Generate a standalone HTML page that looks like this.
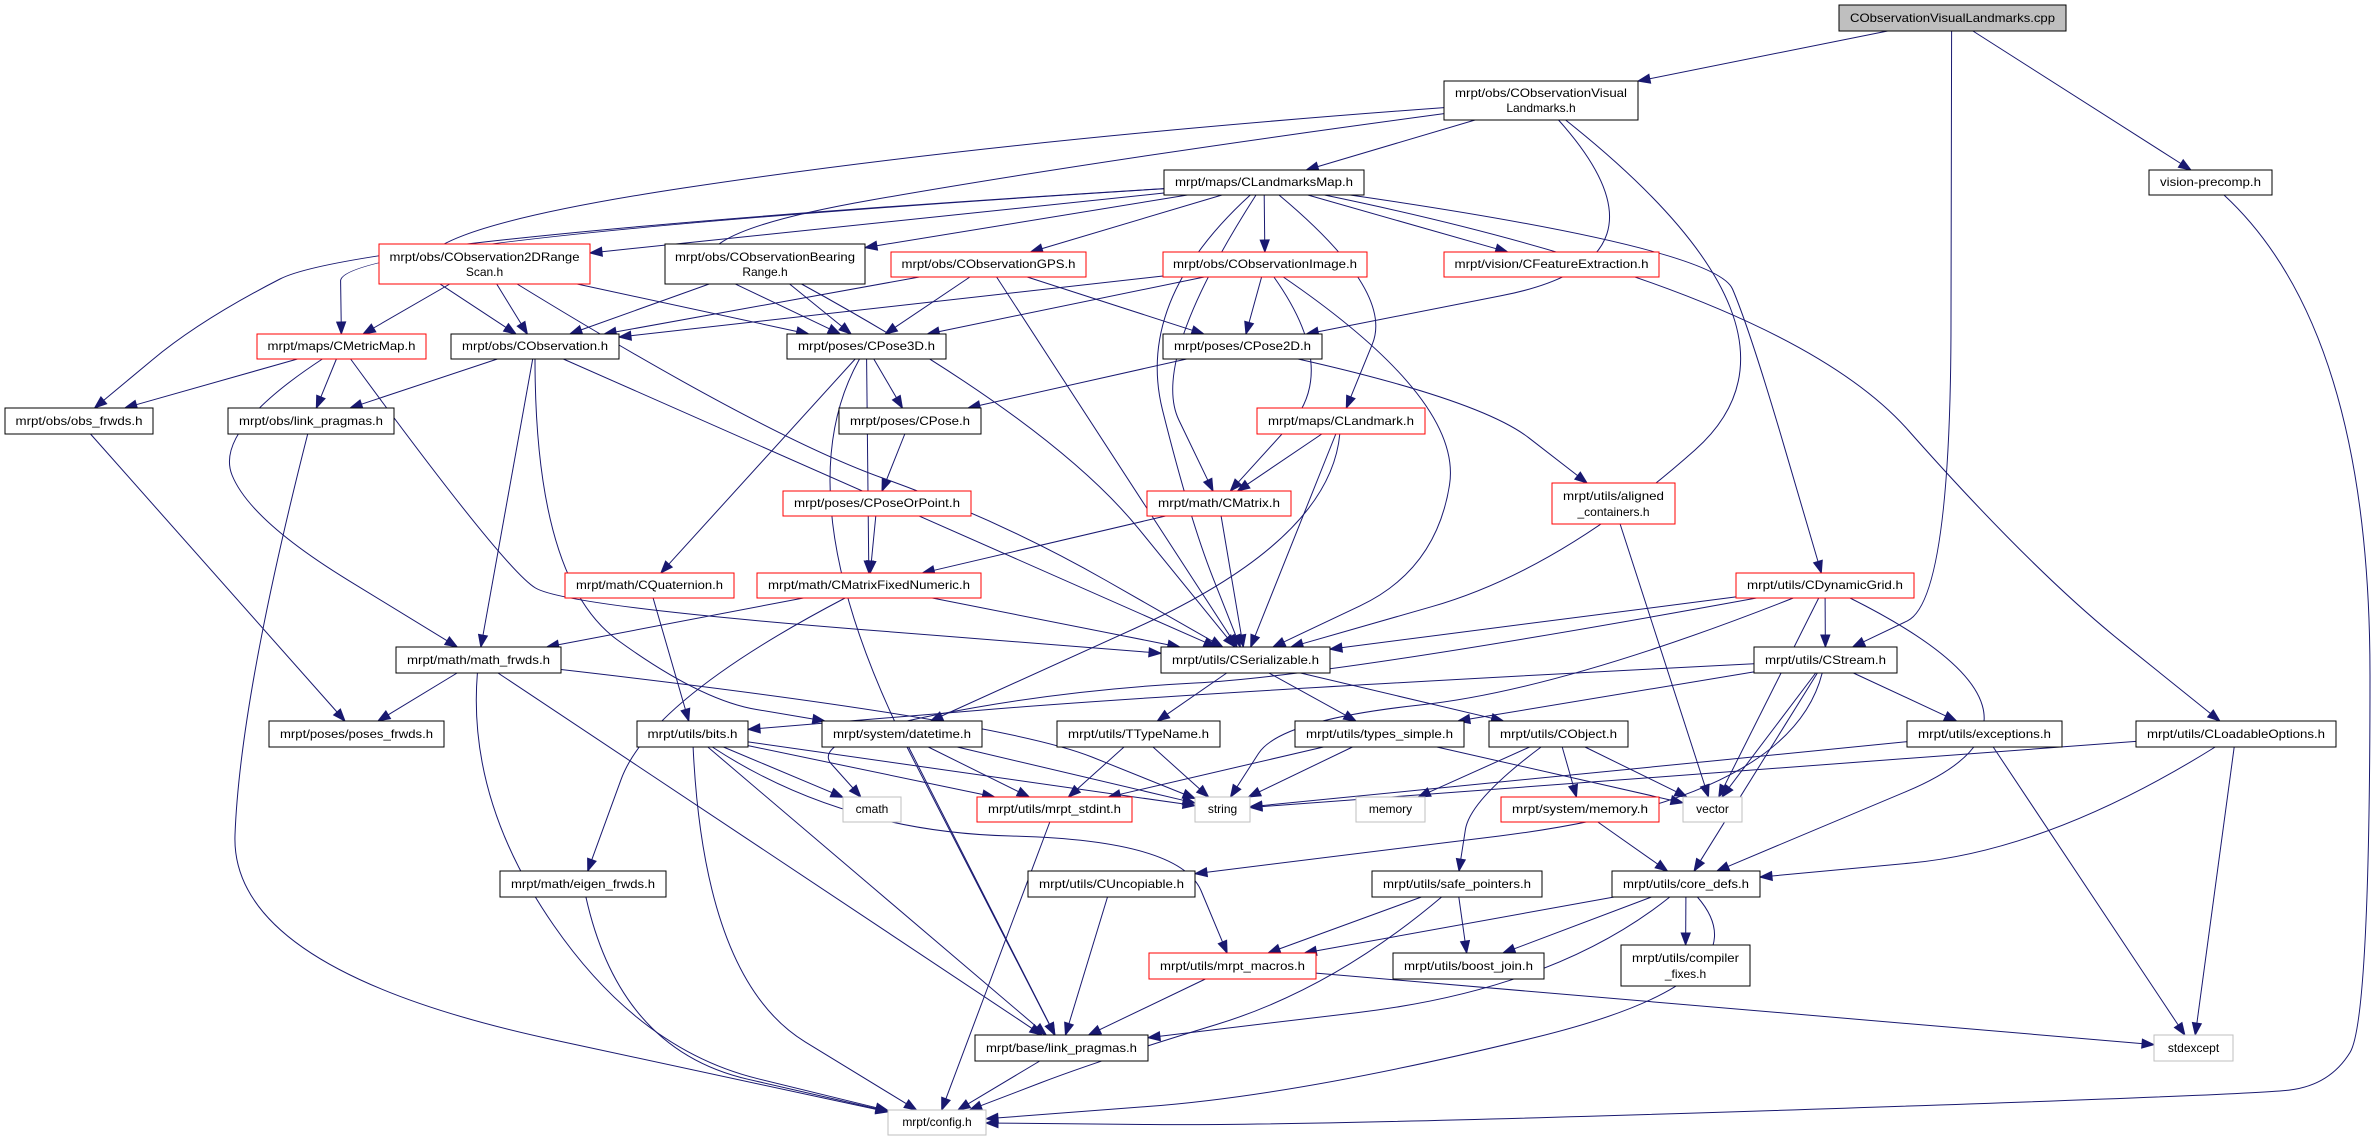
<!DOCTYPE html>
<html><head><meta charset="utf-8">
<style>
html,body{margin:0;padding:0;background:#fff;}
svg{display:block;}
text{font-family:"Liberation Sans",Arial,sans-serif;font-size:12px;fill:#000;}
</style></head>
<body>
<svg id="g" width="2373" height="1141" viewBox="0 0 2373 1141" xmlns="http://www.w3.org/2000/svg">
<g id="edges" fill="none" stroke="#191970" stroke-width="1"></g>
<g id="heads" fill="#191970" stroke="#191970"></g>
<g id="nodes" stroke-width="1">
<rect x="1839" y="5" width="227" height="26" fill="#bfbfbf" stroke="#000"/><text x="1952.5" y="22" text-anchor="middle" textLength="205" lengthAdjust="spacingAndGlyphs">CObservationVisualLandmarks.cpp</text>
<rect x="1444" y="81" width="194" height="39" fill="#fff" stroke="#000"/><text x="1541" y="97" text-anchor="middle" textLength="172" lengthAdjust="spacingAndGlyphs">mrpt/obs/CObservationVisual</text><text x="1541" y="112" text-anchor="middle">Landmarks.h</text>
<rect x="2149" y="170" width="123" height="25" fill="#fff" stroke="#000"/><text x="2210.5" y="186" text-anchor="middle" textLength="101" lengthAdjust="spacingAndGlyphs">vision-precomp.h</text>
<rect x="1164" y="170" width="200" height="25" fill="#fff" stroke="#000"/><text x="1264" y="186" text-anchor="middle" textLength="178" lengthAdjust="spacingAndGlyphs">mrpt/maps/CLandmarksMap.h</text>
<rect x="379" y="244" width="211" height="40" fill="#fff" stroke="#f00"/><text x="484.5" y="261" text-anchor="middle" textLength="190" lengthAdjust="spacingAndGlyphs">mrpt/obs/CObservation2DRange</text><text x="484.5" y="276" text-anchor="middle">Scan.h</text>
<rect x="665" y="244" width="200" height="40" fill="#fff" stroke="#000"/><text x="765" y="261" text-anchor="middle" textLength="180" lengthAdjust="spacingAndGlyphs">mrpt/obs/CObservationBearing</text><text x="765" y="276" text-anchor="middle">Range.h</text>
<rect x="891" y="252" width="195" height="25" fill="#fff" stroke="#f00"/><text x="988.5" y="268" text-anchor="middle" textLength="174" lengthAdjust="spacingAndGlyphs">mrpt/obs/CObservationGPS.h</text>
<rect x="1163" y="252" width="204" height="25" fill="#fff" stroke="#f00"/><text x="1265" y="268" text-anchor="middle" textLength="184" lengthAdjust="spacingAndGlyphs">mrpt/obs/CObservationImage.h</text>
<rect x="1444" y="252" width="215" height="25" fill="#fff" stroke="#f00"/><text x="1551.5" y="268" text-anchor="middle" textLength="194" lengthAdjust="spacingAndGlyphs">mrpt/vision/CFeatureExtraction.h</text>
<rect x="257" y="334" width="169" height="25" fill="#fff" stroke="#f00"/><text x="341.5" y="350" text-anchor="middle" textLength="148" lengthAdjust="spacingAndGlyphs">mrpt/maps/CMetricMap.h</text>
<rect x="451" y="334" width="168" height="25" fill="#fff" stroke="#000"/><text x="535" y="350" text-anchor="middle" textLength="146" lengthAdjust="spacingAndGlyphs">mrpt/obs/CObservation.h</text>
<rect x="787" y="334" width="159" height="25" fill="#fff" stroke="#000"/><text x="866.5" y="350" text-anchor="middle" textLength="137" lengthAdjust="spacingAndGlyphs">mrpt/poses/CPose3D.h</text>
<rect x="1163" y="334" width="159" height="25" fill="#fff" stroke="#000"/><text x="1242.5" y="350" text-anchor="middle" textLength="137" lengthAdjust="spacingAndGlyphs">mrpt/poses/CPose2D.h</text>
<rect x="5" y="408" width="148" height="26" fill="#fff" stroke="#000"/><text x="79" y="425" text-anchor="middle" textLength="127" lengthAdjust="spacingAndGlyphs">mrpt/obs/obs_frwds.h</text>
<rect x="228" y="408" width="166" height="26" fill="#fff" stroke="#000"/><text x="311" y="425" text-anchor="middle" textLength="144" lengthAdjust="spacingAndGlyphs">mrpt/obs/link_pragmas.h</text>
<rect x="839" y="408" width="142" height="26" fill="#fff" stroke="#000"/><text x="910" y="425" text-anchor="middle" textLength="120" lengthAdjust="spacingAndGlyphs">mrpt/poses/CPose.h</text>
<rect x="1257" y="408" width="168" height="26" fill="#fff" stroke="#f00"/><text x="1341" y="425" text-anchor="middle" textLength="146" lengthAdjust="spacingAndGlyphs">mrpt/maps/CLandmark.h</text>
<rect x="783" y="491" width="188" height="25" fill="#fff" stroke="#f00"/><text x="877" y="507" text-anchor="middle" textLength="166" lengthAdjust="spacingAndGlyphs">mrpt/poses/CPoseOrPoint.h</text>
<rect x="1147" y="491" width="144" height="25" fill="#fff" stroke="#f00"/><text x="1219" y="507" text-anchor="middle" textLength="122" lengthAdjust="spacingAndGlyphs">mrpt/math/CMatrix.h</text>
<rect x="1552" y="483" width="123" height="41" fill="#fff" stroke="#f00"/><text x="1613.5" y="500" text-anchor="middle" textLength="101" lengthAdjust="spacingAndGlyphs">mrpt/utils/aligned</text><text x="1613.5" y="516" text-anchor="middle">_containers.h</text>
<rect x="565" y="573" width="169" height="25" fill="#fff" stroke="#f00"/><text x="649.5" y="589" text-anchor="middle" textLength="147" lengthAdjust="spacingAndGlyphs">mrpt/math/CQuaternion.h</text>
<rect x="757" y="573" width="224" height="25" fill="#fff" stroke="#f00"/><text x="869" y="589" text-anchor="middle" textLength="202" lengthAdjust="spacingAndGlyphs">mrpt/math/CMatrixFixedNumeric.h</text>
<rect x="1736" y="573" width="178" height="25" fill="#fff" stroke="#f00"/><text x="1825" y="589" text-anchor="middle" textLength="156" lengthAdjust="spacingAndGlyphs">mrpt/utils/CDynamicGrid.h</text>
<rect x="396" y="647" width="165" height="26" fill="#fff" stroke="#000"/><text x="478.5" y="664" text-anchor="middle" textLength="143" lengthAdjust="spacingAndGlyphs">mrpt/math/math_frwds.h</text>
<rect x="1161" y="647" width="169" height="26" fill="#fff" stroke="#000"/><text x="1245.5" y="664" text-anchor="middle" textLength="147" lengthAdjust="spacingAndGlyphs">mrpt/utils/CSerializable.h</text>
<rect x="1754" y="647" width="143" height="26" fill="#fff" stroke="#000"/><text x="1825.5" y="664" text-anchor="middle" textLength="121" lengthAdjust="spacingAndGlyphs">mrpt/utils/CStream.h</text>
<rect x="269" y="721" width="175" height="26" fill="#fff" stroke="#000"/><text x="356.5" y="738" text-anchor="middle" textLength="153" lengthAdjust="spacingAndGlyphs">mrpt/poses/poses_frwds.h</text>
<rect x="637" y="721" width="111" height="26" fill="#fff" stroke="#000"/><text x="692.5" y="738" text-anchor="middle" textLength="90" lengthAdjust="spacingAndGlyphs">mrpt/utils/bits.h</text>
<rect x="822" y="721" width="160" height="26" fill="#fff" stroke="#000"/><text x="902" y="738" text-anchor="middle" textLength="138" lengthAdjust="spacingAndGlyphs">mrpt/system/datetime.h</text>
<rect x="1057" y="721" width="163" height="26" fill="#fff" stroke="#000"/><text x="1138.5" y="738" text-anchor="middle" textLength="141" lengthAdjust="spacingAndGlyphs">mrpt/utils/TTypeName.h</text>
<rect x="1295" y="721" width="169" height="26" fill="#fff" stroke="#000"/><text x="1379.5" y="738" text-anchor="middle" textLength="147" lengthAdjust="spacingAndGlyphs">mrpt/utils/types_simple.h</text>
<rect x="1489" y="721" width="139" height="26" fill="#fff" stroke="#000"/><text x="1558.5" y="738" text-anchor="middle" textLength="117" lengthAdjust="spacingAndGlyphs">mrpt/utils/CObject.h</text>
<rect x="1907" y="721" width="155" height="26" fill="#fff" stroke="#000"/><text x="1984.5" y="738" text-anchor="middle" textLength="133" lengthAdjust="spacingAndGlyphs">mrpt/utils/exceptions.h</text>
<rect x="2136" y="721" width="200" height="26" fill="#fff" stroke="#000"/><text x="2236" y="738" text-anchor="middle" textLength="178" lengthAdjust="spacingAndGlyphs">mrpt/utils/CLoadableOptions.h</text>
<rect x="843" y="797" width="58" height="25" fill="#fff" stroke="#bfbfbf"/><text x="872" y="813" text-anchor="middle">cmath</text>
<rect x="977" y="797" width="155" height="25" fill="#fff" stroke="#f00"/><text x="1054.5" y="813" text-anchor="middle" textLength="133" lengthAdjust="spacingAndGlyphs">mrpt/utils/mrpt_stdint.h</text>
<rect x="1195" y="797" width="55" height="25" fill="#fff" stroke="#bfbfbf"/><text x="1222.5" y="813" text-anchor="middle">string</text>
<rect x="1356" y="797" width="69" height="25" fill="#fff" stroke="#bfbfbf"/><text x="1390.5" y="813" text-anchor="middle">memory</text>
<rect x="1501" y="797" width="158" height="25" fill="#fff" stroke="#f00"/><text x="1580" y="813" text-anchor="middle" textLength="136" lengthAdjust="spacingAndGlyphs">mrpt/system/memory.h</text>
<rect x="1683" y="797" width="59" height="25" fill="#fff" stroke="#bfbfbf"/><text x="1712.5" y="813" text-anchor="middle">vector</text>
<rect x="500" y="871" width="166" height="26" fill="#fff" stroke="#000"/><text x="583" y="888" text-anchor="middle" textLength="144" lengthAdjust="spacingAndGlyphs">mrpt/math/eigen_frwds.h</text>
<rect x="1028" y="871" width="167" height="26" fill="#fff" stroke="#000"/><text x="1111.5" y="888" text-anchor="middle" textLength="145" lengthAdjust="spacingAndGlyphs">mrpt/utils/CUncopiable.h</text>
<rect x="1372" y="871" width="170" height="26" fill="#fff" stroke="#000"/><text x="1457" y="888" text-anchor="middle" textLength="148" lengthAdjust="spacingAndGlyphs">mrpt/utils/safe_pointers.h</text>
<rect x="1612" y="871" width="148" height="26" fill="#fff" stroke="#000"/><text x="1686" y="888" text-anchor="middle" textLength="126" lengthAdjust="spacingAndGlyphs">mrpt/utils/core_defs.h</text>
<rect x="1149" y="953" width="167" height="26" fill="#fff" stroke="#f00"/><text x="1232.5" y="970" text-anchor="middle" textLength="145" lengthAdjust="spacingAndGlyphs">mrpt/utils/mrpt_macros.h</text>
<rect x="1393" y="953" width="151" height="26" fill="#fff" stroke="#000"/><text x="1468.5" y="970" text-anchor="middle" textLength="129" lengthAdjust="spacingAndGlyphs">mrpt/utils/boost_join.h</text>
<rect x="1621" y="945" width="129" height="41" fill="#fff" stroke="#000"/><text x="1685.5" y="962" text-anchor="middle" textLength="107" lengthAdjust="spacingAndGlyphs">mrpt/utils/compiler</text><text x="1685.5" y="978" text-anchor="middle">_fixes.h</text>
<rect x="975" y="1035" width="173" height="26" fill="#fff" stroke="#000"/><text x="1061.5" y="1052" text-anchor="middle" textLength="151" lengthAdjust="spacingAndGlyphs">mrpt/base/link_pragmas.h</text>
<rect x="2154" y="1035" width="79" height="26" fill="#fff" stroke="#bfbfbf"/><text x="2193.5" y="1052" text-anchor="middle">stdexcept</text>
<rect x="888" y="1110" width="98" height="25" fill="#fff" stroke="#bfbfbf"/><text x="937" y="1126" text-anchor="middle">mrpt/config.h</text>
</g>
</svg>
<script>
var N={cpp:[1839,5,2066,31],vl:[1444,81,1638,120],vp:[2149,170,2272,195],lm:[1164,170,1364,195],rs:[379,244,590,284],br:[665,244,865,284],gps:[891,252,1086,277],img:[1163,252,1367,277],fe:[1444,252,1659,277],mm:[257,334,426,359],ob:[451,334,619,359],p3:[787,334,946,359],p2:[1163,334,1322,359],of:[5,408,153,434],lp:[228,408,394,434],ps:[839,408,981,434],lk:[1257,408,1425,434],pp:[783,491,971,516],mx:[1147,491,1291,516],ac:[1552,483,1675,524],q:[565,573,734,598],mf:[757,573,981,598],dg:[1736,573,1914,598],mfw:[396,647,561,673],se:[1161,647,1330,673],st:[1754,647,1897,673],pf:[269,721,444,747],bt:[637,721,748,747],dt:[822,721,982,747],tt:[1057,721,1220,747],ts:[1295,721,1464,747],co:[1489,721,1628,747],ex:[1907,721,2062,747],lo:[2136,721,2336,747],cm:[843,797,901,822],si:[977,797,1132,822],sg:[1195,797,1250,822],me:[1356,797,1425,822],sm:[1501,797,1659,822],ve:[1683,797,1742,822],ef:[500,871,666,897],un:[1028,871,1195,897],sp:[1372,871,1542,897],cd:[1612,871,1760,897],mc:[1149,953,1316,979],bj:[1393,953,1544,979],cf:[1621,945,1750,986],bl:[975,1035,1148,1061],sx:[2154,1035,2233,1061],cg:[888,1110,986,1135]};
var E=[["cpp","vl"],["cpp","vp"],["cpp","st",[[1951,40],[1951,600]]],["vp","cg",[[2370,330],[2370,1020],[2330,1085],[2250,1095],[1300,1126]]],
["vl","lm"],["vl","ob",[[1000,140],[367,236]]],["vl","p3",[[1100,160],[643,240]]],["vl","p2",[[1684,260]]],["vl","se",[[1830,330],[1560,570]]],
["lm","rs"],["lm","br"],["lm","gps"],["lm","img"],["lm","fe"],["lm","mm",[[340,240]]],["lm","of",[[360,238],[200,320]]],["lm","mx",[[1150,360]]],["lm","lk",[[1394,291]]],["lm","se",[[1135,300],[1190,520]]],["lm","dg",[[1715,248],[1750,330]]],["lm","lo",[[1784,290],[2032,570]]],
["rs","mm"],["rs","ob"],["rs","p3"],["rs","se",[[765,436],[1000,520]]],["br","ob"],["br","p3"],["br","se",[[1050,420]]],
["gps","ob"],["gps","p3"],["gps","se"],["gps","p2"],
["img","ob"],["img","p3"],["img","p2"],["img","mx",[[1340,370]]],["img","se",[[1463,400],[1436,570]]],
["mm","of"],["mm","lp"],["mm","mfw",[[214,430],[250,520]]],["mm","se",[[505,570],[566,606]]],
["ob","lp"],["ob","mfw"],["ob","dt",[[535,580],[700,700]]],["ob","se"],
["p3","ps"],["p3","mf"],["p3","q"],["p3","bl",[[780,500]]],["p2","ps"],["p2","ac",[[1480,400]]],["ps","pp"],["pp","mf"],
["lk","mx"],["lk","se"],["lk","dt",[[1330,540]]],["mx","mf"],["mx","se"],
["mf","mfw"],["mf","ef",[[650,700]]],["mf","se"],["q","bt"],
["of","pf"],["lp","cg",[[240,700],[230,970]]],["mfw","pf"],["mfw","cg",[[467,800],[640,1050]]],["mfw","bl"],["mfw","sg",[[1000,720]]],["ac","ve"],
["dg","se"],["dg","st"],["dg","ve"],["dg","sg",[[1560,690],[1280,720]]],["dg","cm",[[1330,676],[1060,690],[810,740]]],["dg","cd",[[2086,716]]],
["se","tt"],["se","ts"],["se","co"],
["st","bt",[[1200,692]]],["st","ts"],["st","ex"],["st","ve"],["st","cd"],["st","un",[[1790,800]]],
["bt","cm"],["bt","si"],["bt","sg"],["bt","bl"],["bt","mc",[[842,832],[1180,840]]],["bt","cg",[[704,980]]],
["dt","si"],["dt","sg"],["dt","bl"],["tt","si"],["tt","sg"],["ts","si"],["ts","sg"],["ts","ve"],
["co","me"],["co","sm"],["co","ve"],["co","sp",[[1470,800]]],["ex","sg"],["ex","sx"],["lo","sg"],["lo","cd",[[2050,850]]],["lo","sx"],
["sm","cd"],["sp","mc"],["sp","bj"],["sp","cg",[[1333,989],[1100,1060]]],["cd","mc"],["cd","bj"],["cd","cf"],["cd","bl",[[1555,989]]],["cd","cg",[[1770,980],[1300,1095]]],
["mc","bl"],["mc","sx"],["un","bl"],["si","cg"],["ef","cg",[[620,1050]]],["bl","cg"]];
function ctr(b){return[(b[0]+b[2])/2,(b[1]+b[3])/2];}
function clip(b,p,q){var dx=q[0]-p[0],dy=q[1]-p[1],hw=(b[2]-b[0])/2,hh=(b[3]-b[1])/2,t=1e9;
if(dx!=0)t=Math.min(t,hw/Math.abs(dx));if(dy!=0)t=Math.min(t,hh/Math.abs(dy));
return[p[0]+dx*t,p[1]+dy*t];}
var eg=document.getElementById('edges'),hg=document.getElementById('heads'),ns='http://www.w3.org/2000/svg';
E.forEach(function(e){var s=N[e[0]],t=N[e[1]],via=e[2]||[];
var cs=ctr(s),ct=ctr(t);
var first=via.length?via[0]:ct,last=via.length?via[via.length-1]:cs;
var a=clip(s,cs,first),b=clip(t,ct,last);
var pts=[a].concat(via).concat([b]);
var pl=pts[pts.length-2],dx=b[0]-pl[0],dy=b[1]-pl[1],L=Math.sqrt(dx*dx+dy*dy)||1,ux=dx/L,uy=dy/L;
var end=[b[0]-ux*12,b[1]-uy*12];pts[pts.length-1]=end;
var d='M'+pts[0][0].toFixed(1)+','+pts[0][1].toFixed(1);
if(pts.length==2){d+=' L'+end[0].toFixed(1)+','+end[1].toFixed(1);}
else{for(var i=1;i<pts.length;i++){var p1=pts[i];
if(i<pts.length-1)d+=' Q'+p1[0]+','+p1[1]+' '+((p1[0]+pts[i+1][0])/2).toFixed(1)+','+((p1[1]+pts[i+1][1])/2).toFixed(1);
else d+=' L'+p1[0].toFixed(1)+','+p1[1].toFixed(1);}}
var p=document.createElementNS(ns,'path');p.setAttribute('d',d);eg.appendChild(p);
var px=-uy,py=ux;var h=document.createElementNS(ns,'polygon');
h.setAttribute('points',b[0]+','+b[1]+' '+(end[0]+px*4.5)+','+(end[1]+py*4.5)+' '+(end[0]-px*4.5)+','+(end[1]-py*4.5));hg.appendChild(h);});
</script>
</body></html>
